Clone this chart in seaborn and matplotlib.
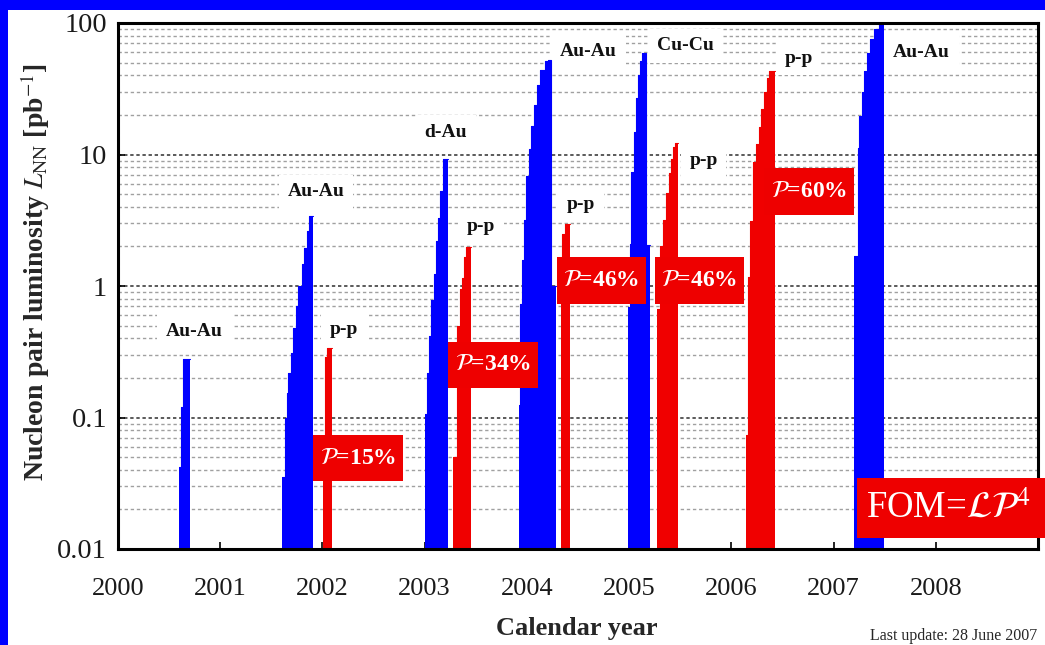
import matplotlib
matplotlib.use("Agg")
import matplotlib.pyplot as plt
from matplotlib.patches import Rectangle
from matplotlib.ticker import FixedLocator, FixedFormatter, LogLocator, NullFormatter
import seaborn as sns

# ---- integrated nucleon-pair luminosity per RHIC run (pb^-1) ----
# step dates in decimal calendar years, cumulative luminosity after each step,
# and the date at which the run ends
auau00_t = [2000.599, 2000.619, 2000.638]
auau00_L = [0.042, 0.12, 0.28]
auau00_end = 2000.704

auau01_t = [2001.600, 2001.632, 2001.649, 2001.665, 2001.688, 2001.714,
            2001.740, 2001.762, 2001.796, 2001.821, 2001.845, 2001.870]
auau01_L = [0.035, 0.10, 0.153, 0.217, 0.31, 0.48, 0.71, 1.0, 1.48, 1.96, 2.64, 3.43]
auau01_end = 2001.909

pp02_t = [2002.007, 2002.023, 2002.046]
pp02_L = [0.06, 0.29, 0.34]
pp02_end = 2002.089

dau03_t = [2003.001, 2003.018, 2003.043, 2003.066, 2003.089, 2003.109,
           2003.131, 2003.154, 2003.180]
dau03_L = [0.107, 0.217, 0.42, 0.78, 1.24, 2.2, 3.3, 5.3, 9.2]
dau03_end = 2003.226

pp03_t = [2003.280, 2003.314, 2003.343, 2003.362, 2003.382, 2003.402]
pp03_L = [0.05, 0.5, 0.95, 1.15, 1.65, 1.97]
pp03_end = 2003.456

auau04_t = [2003.920, 2003.936, 2003.952, 2003.969, 2003.995, 2004.021, 2004.044,
            2004.069, 2004.099, 2004.132, 2004.174, 2004.206, 2004.239]
auau04_L = [0.124, 0.73, 1.57, 3.18, 6.85, 11.0, 16.6, 23.7, 33.8, 44.0, 51.0, 52.6, 1.0]
auau04_end = 2004.282

pp04_t = [2004.337, 2004.347, 2004.374]
pp04_L = [1.2, 2.5, 2.95]
pp04_end = 2004.418

cucu05_t = [2004.988, 2005.005, 2005.022, 2005.045, 2005.064, 2005.087,
            2005.110, 2005.130, 2005.162]
cucu05_L = [0.69, 2.1, 7.3, 14.8, 26.7, 40.0, 51.0, 59.0, 2.05]
cucu05_end = 2005.207

pp05_t = [2005.269, 2005.303, 2005.330, 2005.362, 2005.386, 2005.406, 2005.430, 2005.445]
pp05_L = [0.67, 2.0, 3.15, 5.1, 7.2, 9.2, 11.4, 12.2]
pp05_end = 2005.479

pp06_t = [2006.146, 2006.161, 2006.185, 2006.210, 2006.243, 2006.269,
          2006.292, 2006.318, 2006.347, 2006.373]
pp06_L = [0.074, 1.17, 3.1, 8.8, 12.0, 16.3, 22.0, 30.0, 38.5, 43.5]
pp06_end = 2006.429

auau07_t = [2007.198, 2007.237, 2007.253, 2007.280, 2007.302, 2007.328,
            2007.358, 2007.400, 2007.442]
auau07_L = [1.69, 11.3, 19.5, 30.0, 43.0, 59.0, 75.0, 90.0, 102.0]
auau07_end = 2007.498

species = ["Au-Au", "Au-Au", "p-p", "d-Au", "p-p", "Au-Au", "p-p", "Cu-Cu", "p-p", "p-p", "Au-Au"]
polarization = [15, 34, 46, 46, 60]          # p-p runs 2002, 2003, 2004, 2005, 2006

x_ticks = [2000, 2001, 2002, 2003, 2004, 2005, 2006, 2007, 2008]
x_ticklabels = ["2000", "2001", "2002", "2003", "2004", "2005", "2006", "2007", "2008"]
y_ticks = [0.01, 0.1, 1, 10, 100]
y_ticklabels = ["0.01", "0.1", "1", "10", "100"]

BLUE = "#0000ff"
RED = "#f00000"

runs = [
    (auau00_t, auau00_L, auau00_end, BLUE),
    (auau01_t, auau01_L, auau01_end, BLUE),
    (pp02_t, pp02_L, pp02_end, RED),
    (dau03_t, dau03_L, dau03_end, BLUE),
    (pp03_t, pp03_L, pp03_end, RED),
    (auau04_t, auau04_L, auau04_end, BLUE),
    (pp04_t, pp04_L, pp04_end, RED),
    (cucu05_t, cucu05_L, cucu05_end, BLUE),
    (pp05_t, pp05_L, pp05_end, RED),
    (pp06_t, pp06_L, pp06_end, RED),
    (auau07_t, auau07_L, auau07_end, BLUE),
]

# species label anchors (year, luminosity)
label_pos = [(2000.748, 0.45), (2001.935, 5.2), (2002.209, 0.47), (2003.206, 14.7),
             (2003.555, 2.85), (2004.604, 61), (2004.526, 4.2), (2005.552, 67),
             (2005.728, 9.0), (2006.657, 54), (2007.859, 60)]

# ---- style ----
sns.set_theme(style="white")
plt.rcParams["font.family"] = ["Liberation Serif", "DejaVu Serif"]
plt.rcParams["mathtext.fontset"] = "stix"

W, H = 1045, 645
fig = plt.figure(figsize=(W / 100, H / 100), dpi=100)
fig.patch.set_facecolor("white")


def fx(px):
    return px / W


def fy(py):
    return 1 - py / H


ax = fig.add_axes([fx(118), fy(549), fx(1038) - fx(118), fy(23) - fy(549)])
ax.set_facecolor("white")
ax.set_yscale("log")
ax.set_xlim(2000, 2009)
ax.set_ylim(0.01, 100)
ax.set_axisbelow(True)

# dashed grid at every decade and sub-decade
ax.yaxis.set_major_locator(FixedLocator(y_ticks))
ax.yaxis.set_major_formatter(FixedFormatter(y_ticklabels))
ax.yaxis.set_minor_locator(LogLocator(base=10, subs=range(2, 10)))
ax.yaxis.set_minor_formatter(NullFormatter())
ax.grid(True, axis="y", which="major", color="#2e2e2e", lw=1.1, ls=(0, (2.2, 1.8)), zorder=0.5)
ax.grid(True, axis="y", which="minor", color="#a0a0a0", lw=1.0, ls=(0, (2.4, 2.0)), zorder=0.5)
ax.grid(False, axis="x")

ax.set_xticks(x_ticks)
ax.set_xticklabels(x_ticklabels)
ax.tick_params(axis="x", which="major", direction="in", length=5, width=1.2,
               labelsize=19, pad=21, colors="black", labelcolor="#1a1a1a", bottom=True)
ax.tick_params(axis="y", which="major", direction="in", length=5, width=1.2,
               labelsize=20.5, pad=8, colors="black", labelcolor="#1a1a1a", left=True)
ax.tick_params(axis="y", which="minor", length=0)
for s in ax.spines.values():
    s.set_color("black")
    s.set_linewidth(2.2)
    s.set_zorder(6)

# cumulative luminosity curves, filled down to the axis floor
for t, L, t_end, col in runs:
    xs = list(t) + [t_end]
    ys = list(L) + [L[-1]]
    clip = max(ys) <= 100
    ax.fill_between(xs, 0.01, ys, step="post", color=col, lw=0, zorder=2, clip_on=clip)
    sns.lineplot(x=xs, y=ys, drawstyle="steps-post", color=col, lw=0.8,
                 sort=False, estimator=None, ax=ax, zorder=2, legend=False)

# species labels on white patches that mask the grid
for txt, (xv, yv) in zip(species, label_pos):
    ax.text(xv, yv, txt, ha="center", va="center", fontsize=14, fontweight="bold",
            color="#111111", zorder=1,
            bbox=dict(boxstyle="square,pad=0.45", fc="white", ec="none"))

# beam polarization boxes (pixel frames in figure space)
pol_boxes = [(313, 435, 403, 481), (448, 342, 538, 388), (557, 257, 646, 304),
             (655, 257, 744, 304), (764, 168, 854, 215)]
for p, (x0, y0, x1, y1) in zip(polarization, pol_boxes):
    fig.patches.append(Rectangle((fx(x0), fy(y1)), fx(x1) - fx(x0), fy(y0) - fy(y1),
                                 transform=fig.transFigure, fc="#ee0000", ec="none", zorder=7))
    fig.text(fx((x0 + x1) / 2), fy((y0 + y1) / 2), r"$\mathcal{P}$=%d%%" % p,
             ha="center", va="center", color="white", fontsize=17, fontweight="bold", zorder=8)

# figure-of-merit box running off the right edge
fig.patches.append(Rectangle((fx(857), fy(538)), fx(1060) - fx(857), fy(478) - fy(538),
                             transform=fig.transFigure, fc="#ee0000", ec="none", zorder=7))
fig.text(fx(866), fy(508), r"FOM=$\mathcal{LP}^{4}$", ha="left", va="center",
         color="white", fontsize=26.5, zorder=8)

# axis titles and footnote
fig.text(fx(35), fy(272), r"Nucleon pair luminosity $\mathit{L}_{\rm NN}$ [pb$^{-1}$]",
         rotation=90, ha="center", va="center", fontsize=20, fontweight="bold")
fig.text(fx(577), fy(628), "Calendar year", ha="center", va="center",
         fontsize=19, fontweight="bold")
fig.text(fx(1037), fy(636), "Last update: 28 June 2007", ha="right", va="center",
         fontsize=11.5)

# slide frame: blue band along the top and left edges
fig.patches.append(Rectangle((0, fy(10)), 1, fy(0) - fy(10), transform=fig.transFigure,
                             fc="#0000ff", ec="none", zorder=9))
fig.patches.append(Rectangle((0, 0), fx(8), 1, transform=fig.transFigure,
                             fc="#0000ff", ec="none", zorder=9))

fig.savefig("out.png", dpi=100, facecolor="white")
